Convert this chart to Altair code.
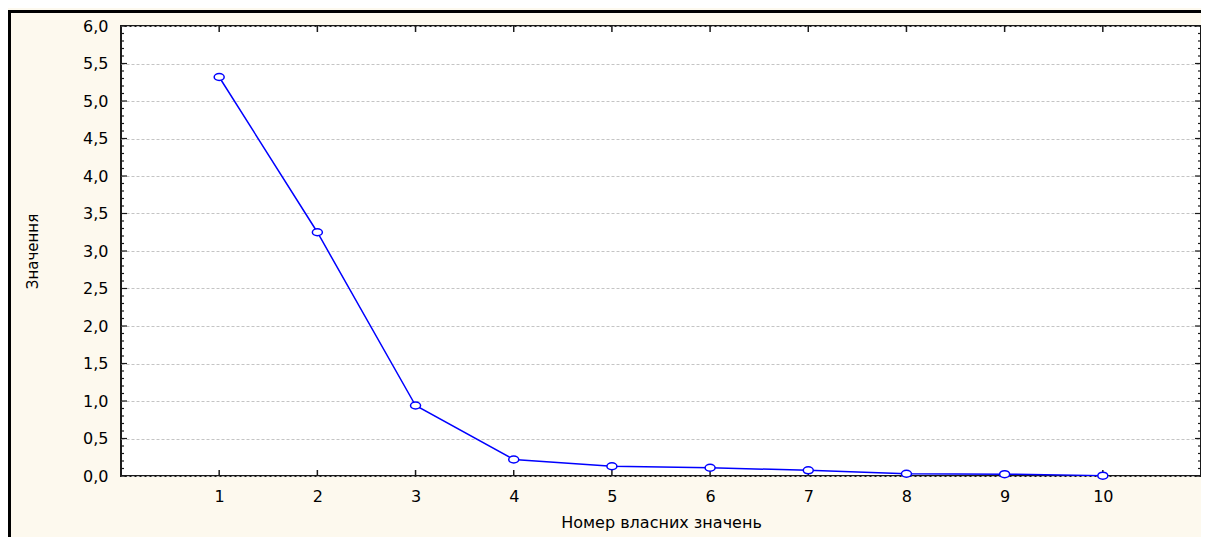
import altair as alt
import pandas as pd

# Data (eigenvalue scree plot)
eig_num = [1, 2, 3, 4, 5, 6, 7, 8, 9, 10]
eig_val = [5.32, 3.25, 0.94, 0.22, 0.13, 0.11, 0.076, 0.03, 0.025, 0.005]

y_major = [0.0, 0.5, 1.0, 1.5, 2.0, 2.5, 3.0, 3.5, 4.0, 4.5, 5.0, 5.5, 6.0]
y_minor = [round(v * 0.1, 1) for v in range(0, 61) if v % 5 != 0]
x_ticks = [1, 2, 3, 4, 5, 6, 7, 8, 9, 10]

x_title = "Номер власних значень"
y_title = "Значення"

W, H = 1080, 450
BLUE = "#0000FF"
TICK = "#1a1a1a"
FONT = "DejaVu Sans"

df = pd.DataFrame({"x": eig_num, "y": eig_val})
df_major = pd.DataFrame({"y": y_major})
df_minor = pd.DataFrame({"y": y_minor})
df_xt = pd.DataFrame({"x": x_ticks})
df_one = pd.DataFrame({"a": [0]})

xs = alt.Scale(domain=[0, 11], nice=False, zero=False)
ys = alt.Scale(domain=[0, 6], nice=False, zero=False)

x_axis = alt.Axis(
    values=x_ticks, title=x_title, ticks=False, tickSize=0, domain=False, grid=False,
    format="d",
    labelPadding=12, labelFontSize=16, labelFont=FONT, labelColor="#000",
    titleFont=FONT, titleFontSize=16, titleFontWeight="normal", titleColor="#000",
    titleX=540, titleY=46, titleBaseline="middle", titleAlign="center",
)
y_axis = alt.Axis(
    values=y_major, title=y_title, ticks=False, tickSize=0, domain=False,
    grid=True, gridDash=[3, 2], gridColor="#C4C4C4", gridWidth=1,
    labelExpr="replace(format(datum.value, '.1f'), '.', ',')",
    labelPadding=13, labelFontSize=16, labelFont=FONT, labelColor="#000",
    titleFont=FONT, titleFontSize=15, titleFontWeight="normal", titleColor="#000",
    titleX=-89, titleY=225, titleAngle=270, titleBaseline="middle", titleAlign="center",
)

def X(field="x"):
    return alt.X(f"{field}:Q", scale=xs, axis=x_axis, title=x_title)

def Y(field="y"):
    return alt.Y(f"{field}:Q", scale=ys, axis=y_axis, title=y_title)

line = alt.Chart(df).mark_line(color=BLUE, strokeWidth=1.5).encode(x=X(), y=Y())
pts = alt.Chart(df).mark_point(
    shape="M-1,0 A1,0.7 0 1,1 1,0 A1,0.7 0 1,1 -1,0 Z",
    size=100, filled=True, fill="white", stroke=BLUE, strokeWidth=1.5, opacity=1,
).encode(x=X(), y=Y())

def yticks(d, x0, x1):
    return alt.Chart(d).mark_rule(color=TICK, strokeWidth=1.2).encode(
        y=Y(), x=alt.value(x0), x2=alt.value(x1)
    )

def xticks(y0, y1):
    return alt.Chart(df_xt).mark_rule(color=TICK, strokeWidth=1.5).encode(
        x=X(), y=alt.value(y0), y2=alt.value(y1)
    )

frame = alt.Chart(df_one).mark_rect(
    fillOpacity=0, stroke="#000", strokeWidth=3
).encode(
    x=alt.value(-111.5), y=alt.value(-14.5), x2=alt.value(W + 300), y2=alt.value(H + 300)
)

chart = alt.layer(
    line,
    yticks(df_major, 0, 6), yticks(df_minor, 0, 3),
    yticks(df_major, W - 6, W), yticks(df_minor, W - 3, W),
    xticks(H - 6, H), xticks(0, 6),
    pts, frame,
).properties(
    width=W, height=H,
    autosize=alt.AutoSizeParams(type="none"),
    padding={"left": 113, "top": 18, "right": 0, "bottom": 65},
    background="#FDF9EE",
).configure_view(
    fill="white", stroke="#1a1a1a", strokeWidth=2
)

chart.save("out.html", embed_options={"renderer": "svg", "actions": False})
